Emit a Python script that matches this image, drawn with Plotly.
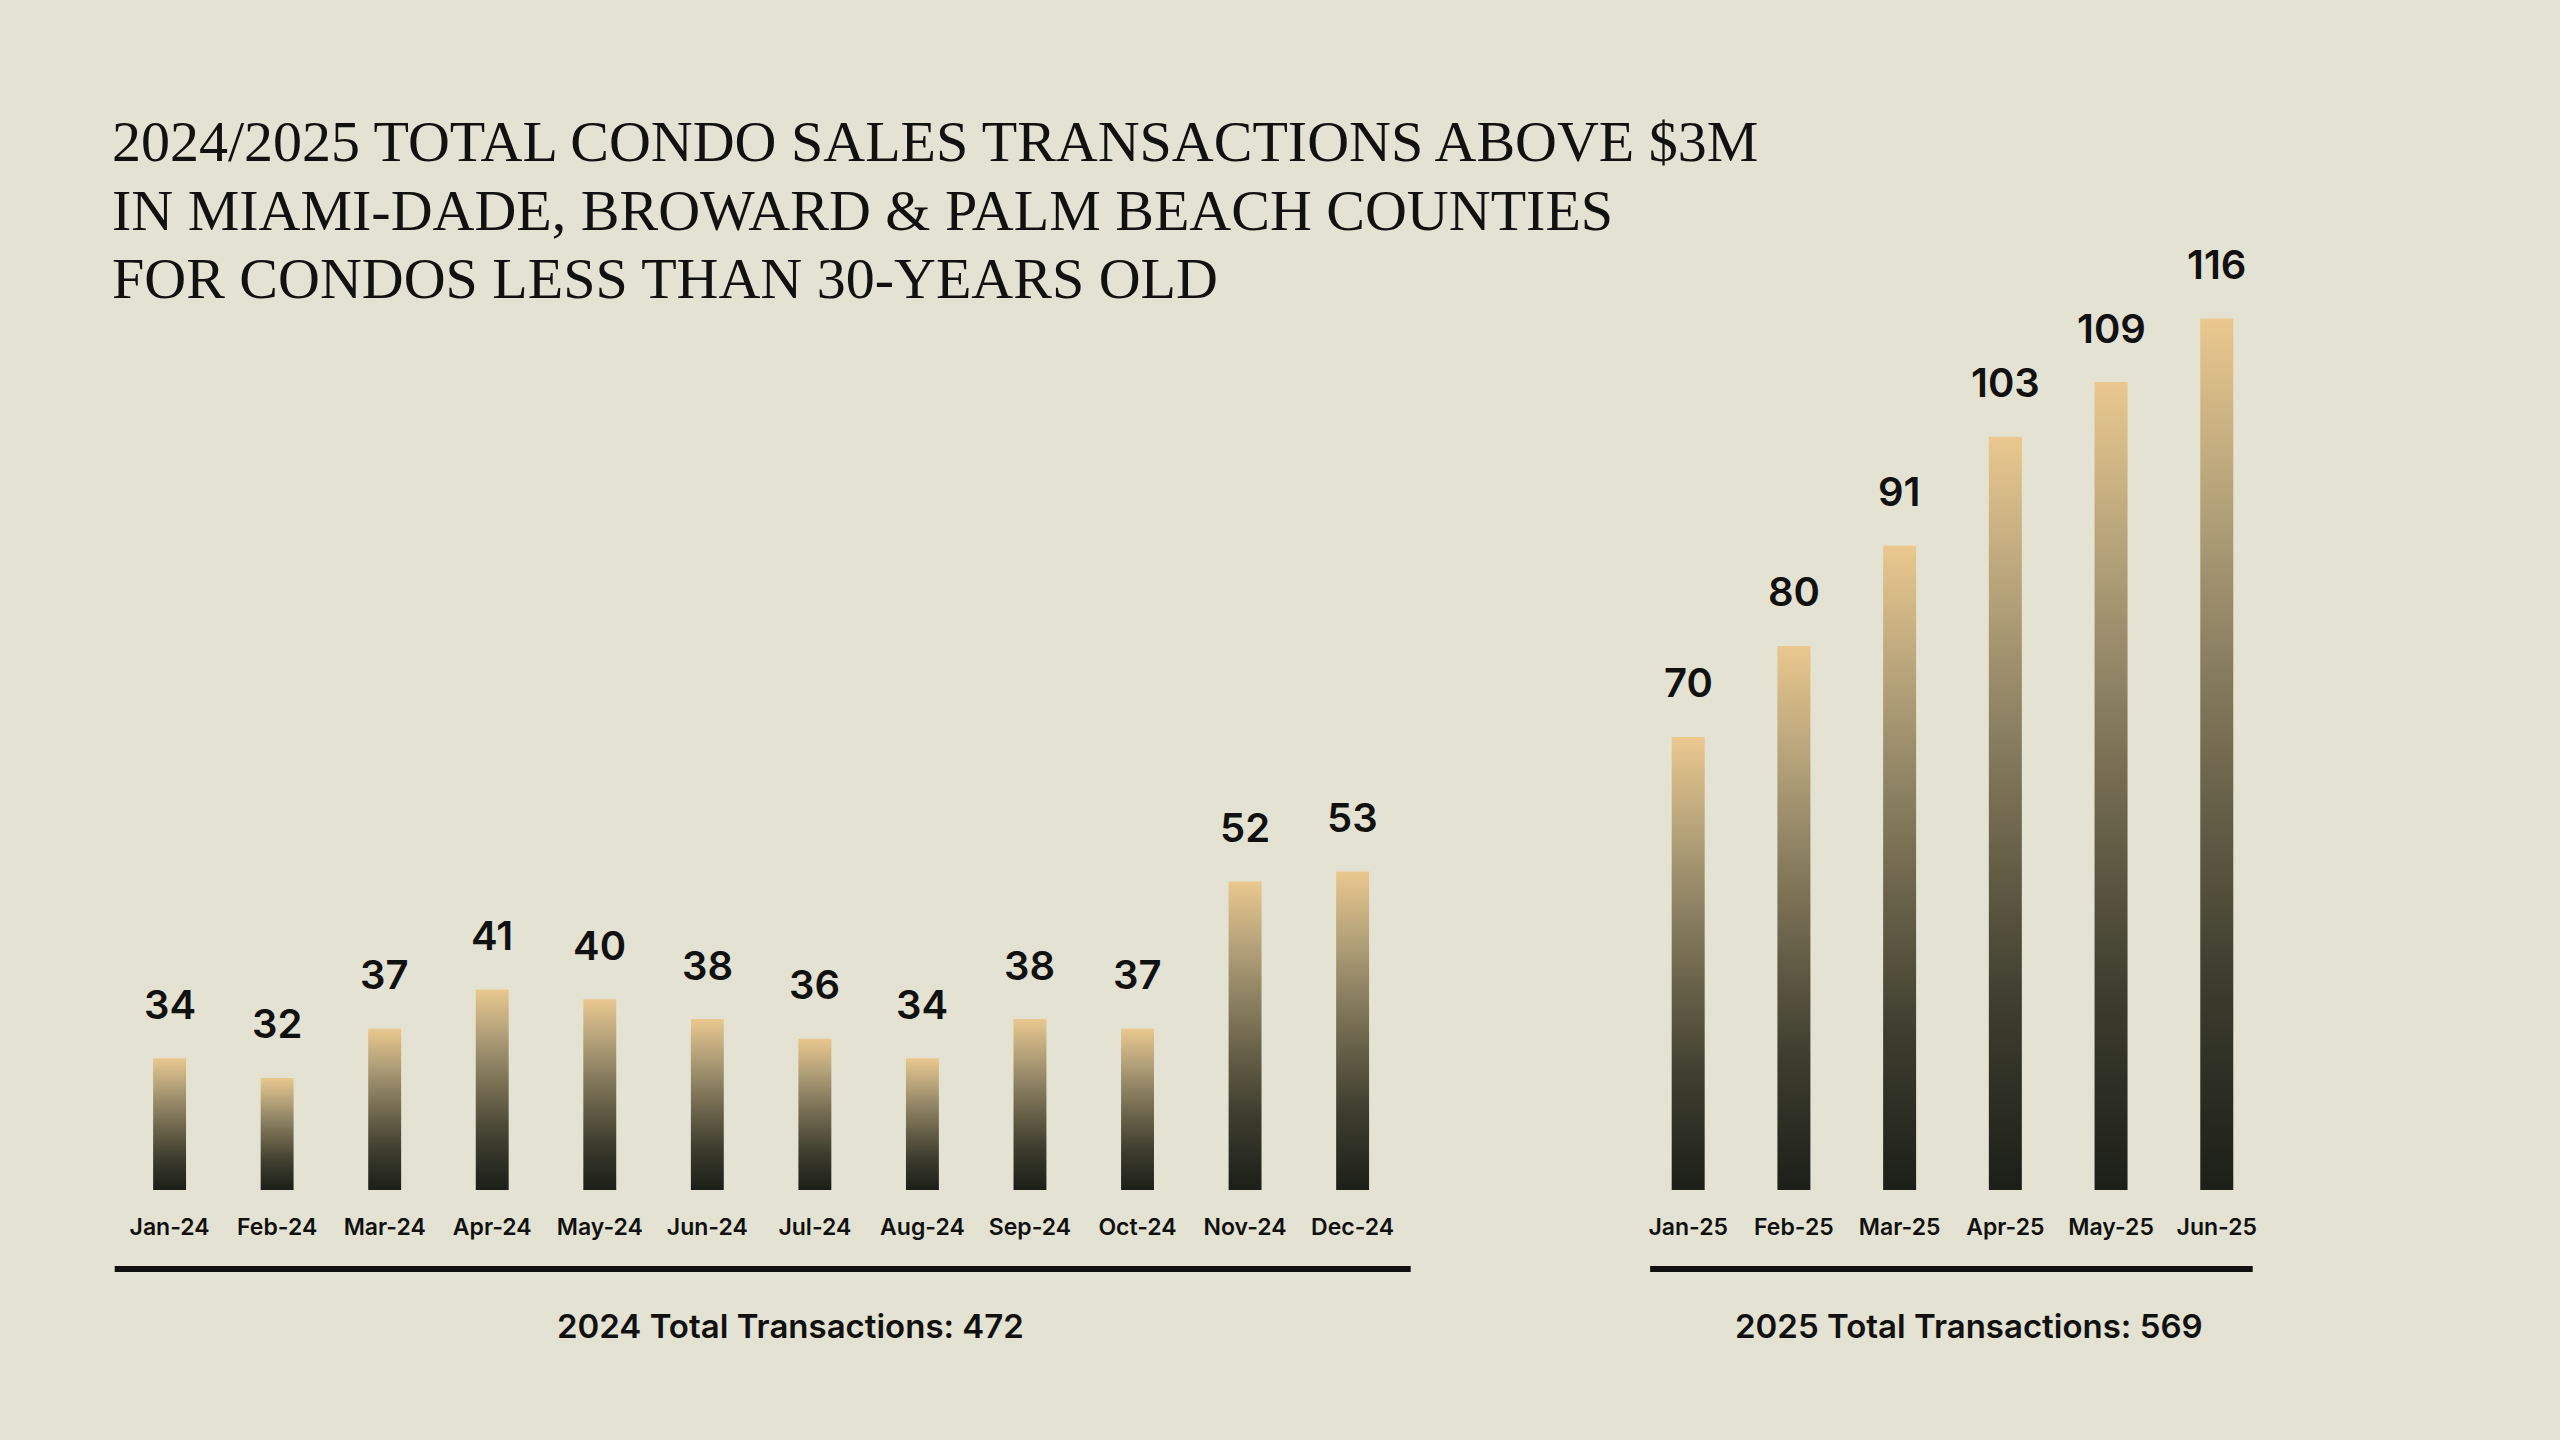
import plotly.graph_objects as go

# ---- data ----
months_2024 = ["Jan-24", "Feb-24", "Mar-24", "Apr-24", "May-24", "Jun-24",
               "Jul-24", "Aug-24", "Sep-24", "Oct-24", "Nov-24", "Dec-24"]
sales_2024 = [34, 32, 37, 41, 40, 38, 36, 34, 38, 37, 52, 53]
months_2025 = ["Jan-25", "Feb-25", "Mar-25", "Apr-25", "May-25", "Jun-25"]
sales_2025 = [70, 80, 91, 103, 109, 116]
total_2024_label = "2024 Total Transactions: 472"
total_2025_label = "2025 Total Transactions: 569"
title_lines = [
    "2024/2025 TOTAL CONDO SALES TRANSACTIONS ABOVE $3M",
    "IN MIAMI-DADE, BROWARD & PALM BEACH COUNTIES",
    "FOR CONDOS LESS THAN 30-YEARS OLD",
]

# ---- style ----
BG = "#e4e2d2"
INK = "#111111"
W, H = 2560, 1440
SANS = "Inter, Lato, sans-serif"
SERIF = "Liberation Serif, Times New Roman, serif"
GRAD = [[0.0, "#1c1f18"], [0.25, "#3e3e2f"], [0.5, "#736a50"],
        [0.62, "#8c8162"], [0.8, "#b7a47b"], [1.0, "#eac88e"]]

Y1_RANGE = [20.6, 141.7]
Y2_RANGE = [20.2, 151.0]
X1_RANGE = [-0.51, 11.54]
X2_RANGE = [-0.36, 5.34]
HALF_W1 = 0.153
HALF_W2 = 0.156

fig = go.Figure()


def add_bars(values, xref, yref, yrange, half_w):
    ymin = yrange[0]
    for i, v in enumerate(values):
        fig.add_trace(go.Scatter(
            x=[i - half_w, i + half_w, i + half_w, i - half_w, i - half_w],
            y=[ymin, ymin, v, v, ymin],
            xaxis=xref, yaxis=yref,
            mode="lines", line=dict(width=0, color="rgba(0,0,0,0)"),
            fill="toself",
            fillgradient=dict(type="vertical", colorscale=GRAD, start=ymin, stop=v),
            hoverinfo="skip", showlegend=False,
        ))
        fig.add_annotation(
            x=i, y=v, xref=xref, yref=yref, text=str(v), showarrow=False,
            yanchor="middle", yshift=54,
            font=dict(family=SANS, size=40, color=INK, weight=600),
        )


add_bars(sales_2024, "x", "y", Y1_RANGE, HALF_W1)
add_bars(sales_2025, "x2", "y2", Y2_RANGE, HALF_W2)

x1_dom = [113 / W, 1412 / W]
x2_dom = [1652 / W, 2256 / W]
y_dom = [250 / H, 1.0]

tickfont = dict(family=SANS, size=23, color=INK, weight=600)
fig.update_layout(
    width=W, height=H, autosize=False,
    margin=dict(l=0, r=0, t=0, b=0),
    paper_bgcolor=BG, plot_bgcolor=BG,
    showlegend=False,
    xaxis=dict(domain=x1_dom, range=X1_RANGE, tickmode="array",
               tickvals=list(range(len(months_2024))), ticktext=months_2024,
               showgrid=False, zeroline=False, showline=False, ticks="",
               tickfont=tickfont, ticklabelstandoff=21, fixedrange=True),
    yaxis=dict(domain=y_dom, range=Y1_RANGE, visible=False, fixedrange=True),
    xaxis2=dict(domain=x2_dom, range=X2_RANGE, tickmode="array",
                tickvals=list(range(len(months_2025))), ticktext=months_2025,
                showgrid=False, zeroline=False, showline=False, ticks="",
                tickfont=tickfont, ticklabelstandoff=21, anchor="y2", fixedrange=True),
    yaxis2=dict(domain=y_dom, range=Y2_RANGE, visible=False, anchor="x2", fixedrange=True),
)

# underlines
for xr in ("x domain", "x2 domain"):
    fig.add_shape(type="line", xref=xr, yref="paper", x0=0, x1=1,
                  y0=1 - 1269 / H, y1=1 - 1269 / H,
                  line=dict(color=INK, width=6))

# totals
fig.add_annotation(xref="paper", yref="paper", x=790 / W, y=1 - 1326 / H,
                   text=total_2024_label, showarrow=False, xanchor="center", yanchor="middle",
                   font=dict(family=SANS, size=33, color=INK, weight=600))
fig.add_annotation(xref="paper", yref="paper", x=1972 / W, y=1 - 1326 / H,
                   text=total_2025_label, showarrow=False, xanchor="center", yanchor="middle",
                   font=dict(family=SANS, size=33, color=INK, weight=600))

# title
for k, line in enumerate(title_lines):
    fig.add_annotation(xref="paper", yref="paper", x=108 / W, y=1 - (142 + 68 * k) / H,
                       text=line, showarrow=False, xanchor="left", yanchor="middle",
                       font=dict(family=SERIF, size=58, color=INK))

fig.write_html("out.html")
